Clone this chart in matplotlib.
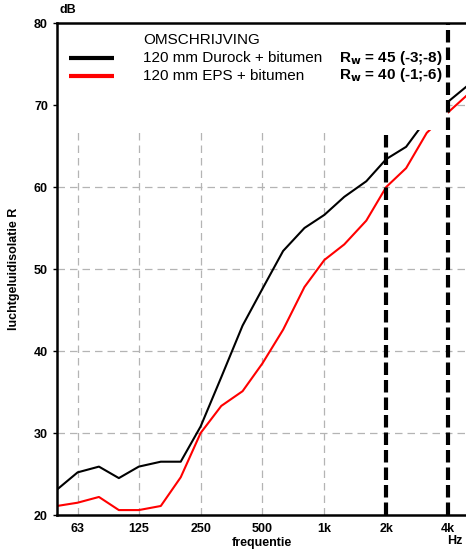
import matplotlib
matplotlib.use('Agg')
import matplotlib.pyplot as plt
from matplotlib.patches import Rectangle

plt.rcParams['font.family'] = ['Liberation Sans', 'DejaVu Sans']

# third-octave band centre frequencies (Hz)
freqs = [50, 63, 80, 100, 125, 160, 200, 250, 315, 400, 500, 630, 800,
         1000, 1250, 1600, 2000, 2500, 3150, 4000, 5000]

durock = [23.1, 25.2, 25.9, 24.5, 25.9, 26.5, 26.5, 30.8, 36.8, 43.1, 47.6,
          52.2, 55.0, 56.6, 58.8, 60.7, 63.4, 64.9, 68.3, 70.4, 72.4]
eps = [21.1, 21.5, 22.2, 20.6, 20.6, 21.1, 24.6, 30.0, 33.3, 35.1, 38.5,
       42.6, 47.8, 51.1, 53.0, 55.9, 60.0, 62.3, 66.6, 69.1, 71.3]

tick_freqs = [63, 125, 250, 500, 1000, 2000, 4000]
tick_labels = ['63', '125', '250', '500', '1k', '2k', '4k']
y_ticks = [20, 30, 40, 50, 60, 70, 80]

legend_title = 'OMSCHRIJVING'
series_names = ['120 mm Durock + bitumen', '120 mm EPS + bitumen']
rw_texts = [r'R$_\mathbf{w}$ = 45 (-3;-8)', r'R$_\mathbf{w}$ = 40 (-1;-6)']

fig = plt.figure(figsize=(4.66, 5.5), dpi=100)
ax = fig.add_axes([57 / 466, 35 / 550, 1 - 57 / 466, 492 / 550])

ax.set_xscale('log')
ax.set_xlim(50, 4890)
ax.set_ylim(20, 80)

# grid
grey = '#b4b4b4'
for f in tick_freqs[:5]:
    ax.axvline(f, color=grey, lw=0.9, dashes=(6, 4), zorder=1)
for y in [30, 40, 50, 60, 70]:
    ax.axhline(y, color=grey, lw=0.9, dashes=(6, 4), zorder=1)

ax.plot(freqs, durock, color='black', lw=1.5, zorder=3)
ax.plot(freqs, eps, color='#ff0000', lw=1.5, zorder=3)

# white legend area covers top of the plot
ax.add_patch(Rectangle((50, 67), 4000 - 50, 13, facecolor='white',
                       edgecolor='none', zorder=4))

# thick dashed markers at 2k and 4k
ax.plot([2000, 2000], [20, 67], color='black', lw=3, dashes=(3, 1.2), zorder=5)
ax.plot([4000, 4000], [20, 80], color='black', lw=3, dashes=(3, 1.2), zorder=5)

# legend contents (pixel positions converted to axes fractions)
lx0, lx1 = 69, 114
tx, rx = 143, 339
fy = lambda py: 1 - (py - 23) / 492
fx = lambda px: (px - 57) / (466 - 57)
ax.text(fx(tx), fy(40), legend_title, transform=ax.transAxes, fontsize=11,
        va='center', ha='left', zorder=6)
for i, (name, rw, col) in enumerate(zip(series_names, rw_texts, ['black', '#ff0000'])):
    py = 58 + i * 17.5
    ax.plot([fx(lx0), fx(lx1)], [fy(py), fy(py)], transform=ax.transAxes,
            color=col, lw=3, solid_capstyle='butt', zorder=6)
    ax.text(fx(tx), fy(py), name, transform=ax.transAxes, fontsize=11,
            va='center', ha='left', zorder=6)
    ax.text(fx(rx), fy(py), rw, transform=ax.transAxes, fontsize=11,
            va='center', ha='left', fontweight='bold', zorder=6)

ax.set_xticks(tick_freqs)
ax.set_xticklabels(tick_labels)
ax.xaxis.set_minor_locator(matplotlib.ticker.NullLocator())
ax.set_yticks(y_ticks)
ax.set_yticklabels([str(v) for v in y_ticks])
ax.tick_params(axis='both', labelsize=9, length=3, width=1, direction='out')
ax.tick_params(axis='x', length=0, pad=6)
for lab in ax.get_xticklabels() + ax.get_yticklabels():
    lab.set_fontweight('bold')

for s in ['left', 'bottom', 'top']:
    ax.spines[s].set_linewidth(1.8)
    ax.spines[s].set_zorder(7)
ax.spines['right'].set_visible(False)

ax.set_xlabel('frequentie', fontsize=9, fontweight='bold', labelpad=1)
ax.set_ylabel('luchtgeluidisolatie R', fontsize=9, fontweight='bold', labelpad=10)
fig.text(57 / 466 + 0.005, 1 - 10 / 550, 'dB', fontsize=9, fontweight='bold',
         ha='left', va='center')
fig.text(455 / 466, 1 - 541 / 550, 'Hz', fontsize=9, fontweight='bold',
         ha='center', va='center')

fig.savefig('out.png', dpi=100)
